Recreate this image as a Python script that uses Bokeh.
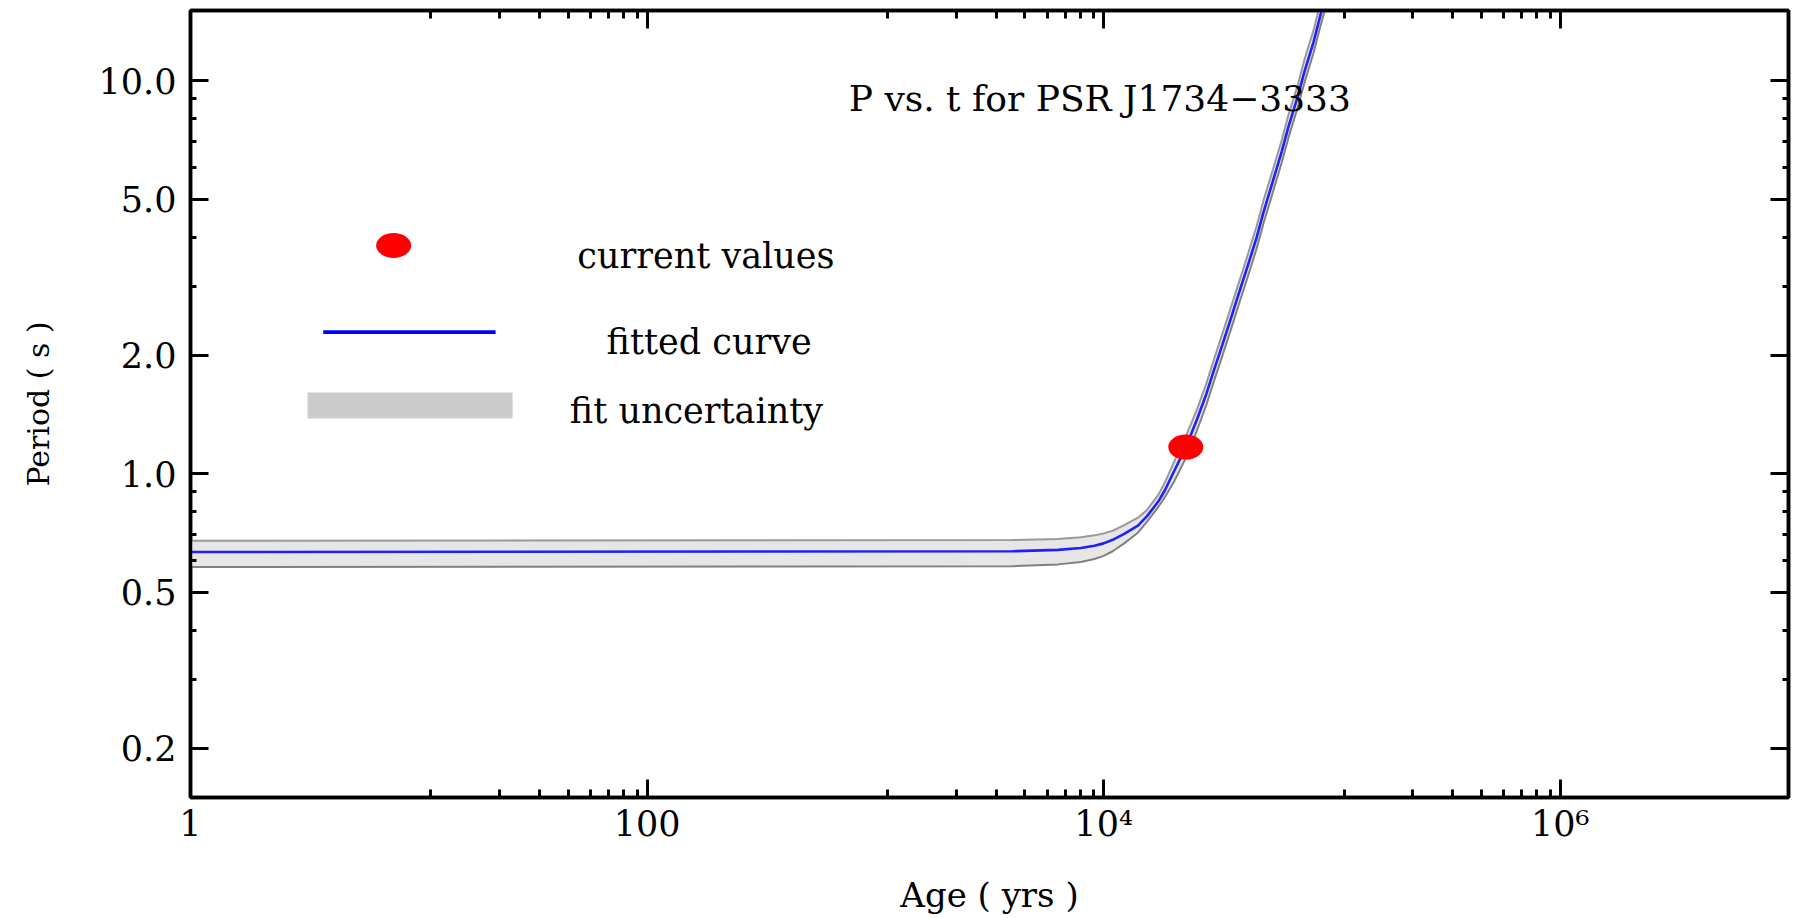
from bokeh.plotting import figure
from bokeh.models import FixedTicker, LogAxis, Range1d
from bokeh.embed import file_html
from bokeh.resources import INLINE
from bokeh.core.properties import value

# ---------------- data ----------------
FIT_AGE = [1, 3980, 6310, 7940, 9120, 10000, 10960, 12300, 14130, 15490, 17380,
           18620, 20420, 22910, 25700, 28180, 30200, 33110, 36310, 38900, 42660,
           46770, 50120, 54950, 60260, 64570, 70790, 75860, 83180, 89130, 93330]
FIT_PERIOD = [0.632, 0.635, 0.640, 0.647, 0.656, 0.665, 0.679, 0.703, 0.738, 0.780, 0.851,
              0.912, 1.019, 1.167, 1.380, 1.596, 1.811, 2.128, 2.512, 2.851, 3.365,
              3.990, 4.624, 5.521, 6.607, 7.656, 9.120, 10.57, 12.59, 14.72, 16.22]
FIT_UPPER = [0.675, 0.678, 0.682, 0.689, 0.697, 0.705, 0.716, 0.740, 0.773, 0.809, 0.885,
             0.955, 1.077, 1.245, 1.462, 1.698, 1.928, 2.270, 2.679, 3.034, 3.589,
             4.266, 4.955, 5.902, 7.063, 8.204, 9.750, 11.35, 13.49, 15.81, 17.38]
FIT_LOWER = [0.579, 0.582, 0.588, 0.596, 0.607, 0.618, 0.635, 0.665, 0.708, 0.755, 0.824,
             0.875, 0.959, 1.097, 1.294, 1.496, 1.698, 1.995, 2.355, 2.673, 3.155,
             3.741, 4.335, 5.176, 6.194, 7.178, 8.551, 9.908, 11.80, 13.80, 15.21]

CURRENT_AGE = [22900]
CURRENT_PERIOD = [1.169]

X_MAJOR = [1, 100, 10000, 1000000]
X_LABELS = ["1", "100", "10\u2074", "10\u2076"]
Y_MAJOR = [0.2, 0.5, 1, 2, 5, 10]
Y_LABELS = ["0.2", "0.5", "1.0", "2.0", "5.0", "10.0"]
Y_MINOR = [0.3, 0.4, 0.6, 0.7, 0.8, 0.9, 3, 4, 6, 7, 8, 9]

TITLE = "P vs. t for PSR J1734\u22123333"
LEGEND_LABELS = ["current values", "fitted curve", "fit uncertainty"]
X_AXIS_LABEL = "Age ( yrs )"
Y_AXIS_LABEL = "Period ( s )"

# ---------------- layout constants (positions in data units) ----------------
X_MINOR = [k * 10 ** n * 1.13 for n in (1, 3, 5) for k in range(1, 9)]
LEG_DOT_X, LEG_DOT_Y = 7.76, 3.81
LEG_LINE_X0, LEG_LINE_X1, LEG_LINE_Y = 3.815, 21.7, 2.292
LEG_BOX = (3.256, 25.76, 1.382, 1.609)
LEG_TEXT_X = [49.5, 66.5, 45.9]
LEG_TEXT_Y = [3.593, 2.161, 1.448]
TITLE_X, TITLE_Y = 764.5, 9.0

FONT = "DejaVu Serif"
W, H = 1795, 918

p = figure(width=W, height=H, x_axis_type="log", y_axis_type="log",
           x_range=Range1d(1, 1.0e7), y_range=Range1d(0.15, 15.1),
           output_backend="svg", toolbar_location=None,
           min_border_left=190, min_border_right=7,
           min_border_top=10, min_border_bottom=121)
p.background_fill_color = "white"
p.border_fill_color = "white"
p.grid.visible = False
p.outline_line_color = "black"
p.outline_line_width = 3.5

x_ticker = FixedTicker(ticks=X_MAJOR, minor_ticks=X_MINOR)
y_ticker = FixedTicker(ticks=Y_MAJOR, minor_ticks=Y_MINOR)

bottom_ax = p.xaxis[0]
left_ax = p.yaxis[0]
top_ax = LogAxis()
right_ax = LogAxis()
p.add_layout(top_ax, "above")
p.add_layout(right_ax, "right")


def style_axis(ax, ticker, minor_in, overrides=None):
    ax.ticker = ticker
    ax.axis_line_color = "black"
    ax.axis_line_width = 3.5
    ax.major_tick_line_color = "black"
    ax.major_tick_line_width = 3
    ax.minor_tick_line_color = "black"
    ax.minor_tick_line_width = 3
    ax.major_tick_in = 18
    ax.major_tick_out = 0
    ax.minor_tick_in = minor_in
    ax.minor_tick_out = 0
    if overrides is not None:
        ax.major_label_overrides = overrides
        ax.major_label_text_font = FONT
        ax.major_label_text_font_size = "35px"
        ax.major_label_text_color = "black"
    else:
        ax.major_label_text_font_size = "1px"
        ax.major_label_text_alpha = 0.0
        ax.major_label_standoff = 0


style_axis(bottom_ax, x_ticker, 8, dict(zip(X_MAJOR, X_LABELS)))
style_axis(top_ax, x_ticker, 8)
style_axis(left_ax, y_ticker, 6, dict(zip(Y_MAJOR, Y_LABELS)))
style_axis(right_ax, y_ticker, 6)

bottom_ax.major_label_standoff = 6
bottom_ax.axis_label = X_AXIS_LABEL
bottom_ax.axis_label_text_font = FONT
bottom_ax.axis_label_text_font_size = "34px"
bottom_ax.axis_label_text_font_style = "normal"
bottom_ax.axis_label_text_color = "black"
bottom_ax.axis_label_standoff = 28

left_ax.major_label_standoff = 14
left_ax.axis_label = Y_AXIS_LABEL
left_ax.axis_label_text_font = FONT
left_ax.axis_label_text_font_size = "30px"
left_ax.axis_label_text_font_style = "normal"
left_ax.axis_label_text_color = "black"
left_ax.axis_label_standoff = 40

# ---------------- uncertainty band and fitted curve ----------------
p.varea(x=FIT_AGE, y1=FIT_LOWER, y2=FIT_UPPER, fill_color="#e6e6e6")
p.line(FIT_AGE, FIT_UPPER, line_color="#999999", line_width=2)
p.line(FIT_AGE, FIT_LOWER, line_color="#808080", line_width=2)
p.line(FIT_AGE, FIT_PERIOD, line_color="#1f1fff", line_width=2.6)

# current value
p.ellipse(x=CURRENT_AGE, y=CURRENT_PERIOD, width=35, height=25,
          width_units="screen", height_units="screen",
          fill_color="#ff0000", line_color=None)

# ---------------- legend (drawn by hand like the reference) ----------------
p.ellipse(x=[LEG_DOT_X], y=[LEG_DOT_Y], width=35, height=25,
          width_units="screen", height_units="screen",
          fill_color="#ff0000", line_color=None)
p.segment(x0=[LEG_LINE_X0], y0=[LEG_LINE_Y], x1=[LEG_LINE_X1], y1=[LEG_LINE_Y],
          line_color="#0000ff", line_width=3.7)
p.quad(left=[LEG_BOX[0]], right=[LEG_BOX[1]], bottom=[LEG_BOX[2]], top=[LEG_BOX[3]],
       fill_color="#cccccc", line_color=None)
p.text(x=LEG_TEXT_X, y=LEG_TEXT_Y, text=LEGEND_LABELS,
       text_font=value(FONT), text_font_size=value("35px"),
       text_color="black", text_align="left", text_baseline="alphabetic")

# title inside the frame
p.text(x=[TITLE_X], y=[TITLE_Y], text=[TITLE],
       text_font=value(FONT), text_font_size=value("36px"),
       text_color="black", text_align="left", text_baseline="alphabetic")

open("out.html", "w").write(file_html(p, INLINE))
